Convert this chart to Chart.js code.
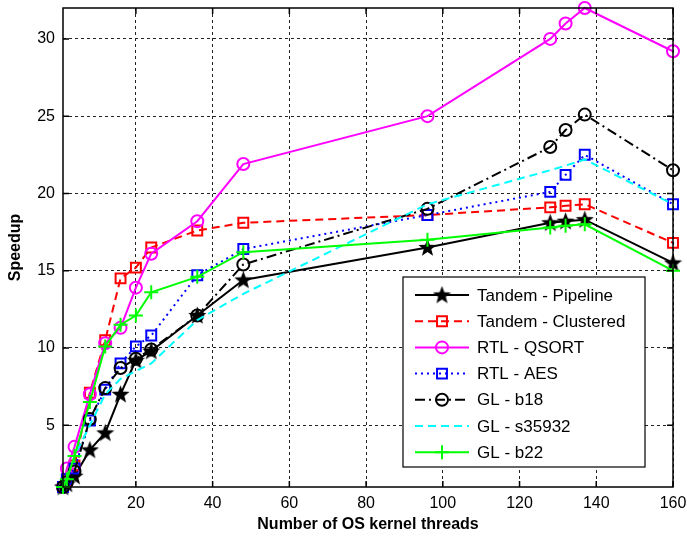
<!DOCTYPE html>
<html>
<head>
<meta charset="utf-8">
<script src="https://cdn.jsdelivr.net/npm/chart.js@4.4.1/dist/chart.umd.min.js"></script>
<style>
  html, body { margin: 0; padding: 0; background: #fff; }
  #wrap { width: 687px; height: 542px; position: relative; }
</style>
</head>
<body>
<div id="wrap"><canvas id="speedupChart" width="687" height="542"></canvas></div>
<script>
// thread counts (x) and speedup per benchmark
const threads = [1, 2, 4, 8, 12, 16, 20, 24, 36, 48, 96, 128, 132, 137, 160];

const tandemPipeline  = [1, 1.2, 1.7, 3.4, 4.5, 7.0, 9.2, 9.8, 12.1, 14.4, 16.5, 18.1, 18.2, 18.3, 15.5];
const tandemClustered = [1, 1.4, 2.4, 7.1, 10.5, 14.5, 15.2, 16.5, 17.6, 18.1, 18.6, 19.1, 19.2, 19.3, 16.8];
const rtlQsort        = [1, 2.2, 3.6, 7.0, 10.3, 11.3, 13.9, 16.1, 18.2, 21.9, 25.0, 30.0, 31.0, 32.0, 29.2];
const rtlAes          = [1, 1.5, 2.2, 5.3, 7.3, 9.0, 10.1, 10.8, 14.7, 16.4, 18.6, 20.1, 21.2, 22.5, 19.3];
const glB18           = [1, 1.3, 2.0, 5.4, 7.4, 8.7, 9.3, 9.9, 12.1, 15.4, 19.0, 23.0, 24.1, 25.1, 21.5];
const glS35932        = [1, 1.5, 3.0, 5.0, 7.0, 8.0, 8.5, 9.0, 11.8, 13.5, 19.3, 21.5, 21.8, 22.2, 19.3];
const glB22           = [1, 1.5, 3.0, 6.5, 10.1, 11.5, 12.1, 13.6, 14.6, 16.2, 17.0, 17.8, 17.9, 18.0, 15.0];

const seriesNames = ['Tandem - Pipeline', 'Tandem - Clustered', 'RTL - QSORT', 'RTL - AES', 'GL - b18', 'GL - s35932', 'GL - b22'];

const xTicks = [20, 40, 60, 80, 100, 120, 140, 160];
const yTicks = [5, 10, 15, 20, 25, 30];

// filled pentagram marker like matlab's 'p'
function makeStar(size) {
  const c = document.createElement('canvas');
  c.width = size; c.height = size;
  const g = c.getContext('2d');
  const cx = size / 2, cy = size / 2 + 0.5;
  const ro = size / 2, ri = ro * 0.42;
  g.beginPath();
  for (let i = 0; i < 10; i++) {
    const r = i % 2 ? ri : ro;
    const a = -Math.PI / 2 + i * Math.PI / 5;
    g.lineTo(cx + r * Math.cos(a), cy + r * Math.sin(a));
  }
  g.closePath();
  g.fillStyle = '#000';
  g.fill();
  return c;
}
const starImg = makeStar(19);

const styles = [
  { color: '#000000', dash: [], point: starImg, radius: 9 },
  { color: '#ff0000', dash: [8, 5], point: 'rect', radius: 7 },
  { color: '#ff00ff', dash: [], point: 'circle', radius: 6 },
  { color: '#0000ff', dash: [2, 4], point: 'rect', radius: 7 },
  { color: '#000000', dash: [10, 4, 2, 4], point: 'circle', radius: 6 },
  { color: '#00ffff', dash: [8, 5], point: false, radius: 0 },
  { color: '#00ff00', dash: [], point: 'cross', radius: 7 }
];

const allSeries = [tandemPipeline, tandemClustered, rtlQsort, rtlAes, glB18, glS35932, glB22];

const datasets = allSeries.map((vals, i) => ({
  label: seriesNames[i],
  data: vals.map((v, k) => ({ x: threads[k], y: v })),
  borderColor: styles[i].color,
  backgroundColor: 'rgba(0,0,0,0)',
  borderWidth: 2,
  borderDash: styles[i].dash,
  pointStyle: styles[i].point,
  pointRadius: styles[i].radius,
  pointBorderColor: styles[i].color,
  pointBackgroundColor: 'rgba(0,0,0,0)',
  pointBorderWidth: 2,
  tension: 0,
  clip: false,
  order: 10 - i
}));

// box around plot area, inward tick marks and the legend inside the axes
const matlabBox = {
  id: 'matlabBox',
  afterDraw(chart) {
    const ctx = chart.ctx;
    const a = chart.chartArea;
    const xs = chart.scales.x, ys = chart.scales.y;
    ctx.save();
    ctx.strokeStyle = '#000';
    ctx.lineWidth = 1.5;
    ctx.setLineDash([]);
    ctx.strokeRect(a.left, a.top, a.right - a.left, a.bottom - a.top);
    ctx.beginPath();
    xTicks.forEach(t => {
      const px = xs.getPixelForValue(t);
      ctx.moveTo(px, a.bottom); ctx.lineTo(px, a.bottom - 6);
      ctx.moveTo(px, a.top); ctx.lineTo(px, a.top + 6);
    });
    yTicks.forEach(t => {
      const py = ys.getPixelForValue(t);
      ctx.moveTo(a.left, py); ctx.lineTo(a.left + 6, py);
      ctx.moveTo(a.right, py); ctx.lineTo(a.right - 6, py);
    });
    ctx.stroke();

    // legend
    const lx = 403, ly = 277, lw = 242, lh = 190;
    ctx.fillStyle = '#fff';
    ctx.fillRect(lx, ly, lw, lh);
    ctx.strokeStyle = '#000';
    ctx.lineWidth = 1.2;
    ctx.strokeRect(lx, ly, lw, lh);
    ctx.font = '17px "Liberation Sans", Arial, sans-serif';
    ctx.textBaseline = 'middle';
    seriesNames.forEach((name, i) => {
      const cy = ly + 18 + i * 26.2;
      const st = styles[i];
      ctx.strokeStyle = st.color;
      ctx.lineWidth = 2;
      ctx.setLineDash(st.dash);
      ctx.beginPath();
      ctx.moveTo(lx + 12, cy);
      ctx.lineTo(lx + 66, cy);
      ctx.stroke();
      ctx.setLineDash([]);
      if (st.point) {
        ctx.fillStyle = 'rgba(0,0,0,0)';
        Chart.helpers.drawPoint(ctx, {
          pointStyle: st.point,
          radius: st.radius,
          rotation: 0,
          borderWidth: 2
        }, lx + 39, cy);
      }
      ctx.fillStyle = '#000';
      ctx.fillText(name, lx + 74, cy + 1);
    });
    ctx.restore();
  }
};

const ctx = document.getElementById('speedupChart').getContext('2d');
new Chart(ctx, {
  type: 'line',
  data: { datasets: datasets },
  options: {
    responsive: false,
    animation: false,
    layout: { autoPadding: false, padding: { top: 8, right: 14, left: 0, bottom: 0 } },
    plugins: {
      legend: { display: false },
      tooltip: { enabled: false }
    },
    scales: {
      x: {
        type: 'linear',
        min: 1,
        max: 160,
        afterBuildTicks: s => { s.ticks = xTicks.map(v => ({ value: v })); },
        afterFit: s => { s.height = 55; s.paddingLeft = 0; s.paddingRight = 0; },
        grid: { color: '#222', lineWidth: 1, drawTicks: false },
        border: { display: false, dash: [3, 3] },
        ticks: { color: '#000', padding: 7, font: { size: 16, family: '"Liberation Sans", Arial, sans-serif' } },
        title: {
          display: true,
          text: 'Number of OS kernel threads',
          color: '#000',
          padding: { top: 0, bottom: 8 },
          font: { size: 16, weight: 'bold', family: '"Liberation Sans", Arial, sans-serif' }
        }
      },
      y: {
        type: 'linear',
        min: 1,
        max: 32,
        afterBuildTicks: s => { s.ticks = yTicks.map(v => ({ value: v })); },
        afterFit: s => { s.width = 63; s.paddingTop = 0; s.paddingBottom = 0; },
        grid: { color: '#222', lineWidth: 1, drawTicks: false },
        border: { display: false, dash: [3, 3] },
        ticks: { color: '#000', padding: 8, font: { size: 16, family: '"Liberation Sans", Arial, sans-serif' } },
        title: {
          display: true,
          text: 'Speedup',
          color: '#000',
          padding: { top: 6, bottom: 0 },
          font: { size: 16, weight: 'bold', family: '"Liberation Sans", Arial, sans-serif' }
        }
      }
    }
  },
  plugins: [matlabBox]
});
</script>
</body>
</html>
